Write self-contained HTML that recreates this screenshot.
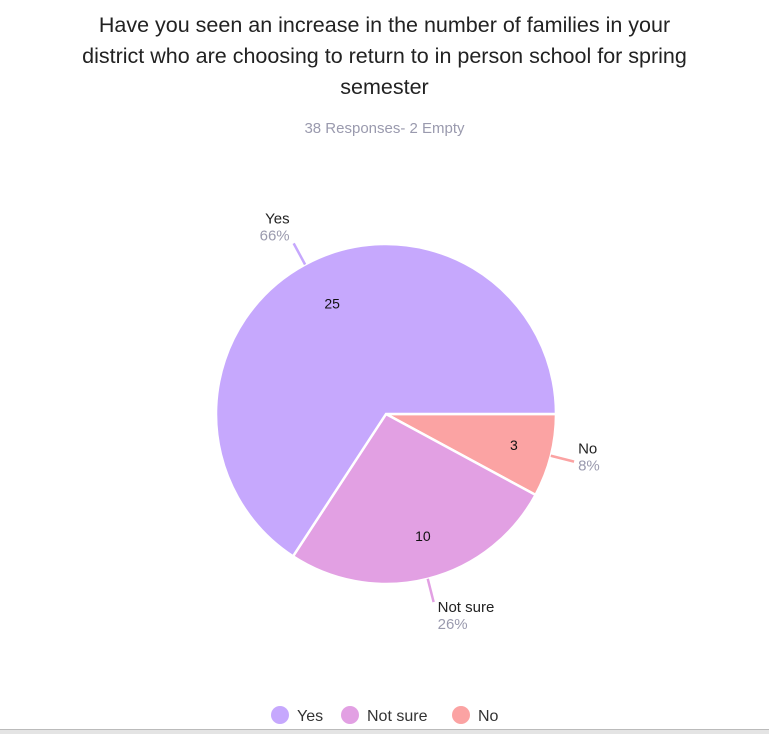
<!DOCTYPE html>
<html><head><meta charset="utf-8"><style>
body{margin:0;background:#fff;width:769px;height:733px;overflow:hidden;font-family:"Liberation Sans",sans-serif;}
#title{position:absolute;left:0;top:10px;width:769px;text-align:center;font-size:21.5px;line-height:31px;color:#222;}
#sub{position:absolute;left:0;top:120px;width:769px;text-align:center;font-size:15px;color:#9a9aae;}
#bottomline{position:absolute;left:0;top:729px;width:769px;height:4px;background:#e4e4e4;border-top:1px solid #bbb;}
</style></head><body>
<div id="title">Have you seen an increase in the number of families in your<br>district who are choosing to return to in person school for spring<br>semester</div>
<div id="sub">38 Responses- 2 Empty</div>
<svg id="chart" width="769" height="733" style="position:absolute;left:0;top:0"></svg>
<div id="bottomline"></div>
<script>
const categories=["No","Not sure","Yes"];
const values=[3,10,25];
const percents=["8%","26%","66%"];
const colors=["#fba3a3","#e2a0e3","#c6a8fd"];
const legendOrder=["Yes","Not sure","No"];
const NS="http://www.w3.org/2000/svg";
const svg=document.getElementById("chart");
const cx=386,cy=414,R=170;
const total=values.reduce((a,b)=>a+b,0);
function pt(a,r){return [cx+r*Math.cos(a),cy+r*Math.sin(a)];}
let a0=0;
values.forEach((v,i)=>{
  const a1=a0+v/total*2*Math.PI;
  const p0=pt(a0,R),p1=pt(a1,R);
  const large=(a1-a0)>Math.PI?1:0;
  const path=document.createElementNS(NS,"path");
  path.setAttribute("d",`M${cx},${cy}L${p0[0]},${p0[1]}A${R},${R} 0 ${large} 1 ${p1[0]},${p1[1]}Z`);
  path.setAttribute("fill",colors[i]);path.setAttribute("stroke","#fff");path.setAttribute("stroke-width","2.5");
  
  
  svg.appendChild(path);
  const am=(a0+a1)/2;
  const c=Math.cos(am),s=Math.sin(am);
  const vp=pt(am,R*0.74);
  const t=document.createElementNS(NS,"text");
  t.setAttribute("x",vp[0]+6);t.setAttribute("y",vp[1]+5);t.setAttribute("text-anchor","middle");
  t.setAttribute("font-size","14");t.setAttribute("fill","#111");t.textContent=v;
  
  
  svg.appendChild(t);
  const l0=pt(am,R),l1=pt(am,R+24);
  const ln=document.createElementNS(NS,"line");
  ln.setAttribute("x1",l0[0]);ln.setAttribute("y1",l0[1]);ln.setAttribute("x2",l1[0]);ln.setAttribute("y2",l1[1]);
  ln.setAttribute("stroke",colors[i]);ln.setAttribute("stroke-width","2.5");
  
  
  svg.appendChild(ln);
  const lx=l1[0]+(c>0?4:-4), anchor=c>0?"start":"end";
  const ly=s<-0.5?l1[1]-20:(s>0.5?l1[1]+10:l1[1]-8);
  const n=document.createElementNS(NS,"text");
  n.setAttribute("x",lx);n.setAttribute("y",ly);n.setAttribute("text-anchor",anchor);
  n.setAttribute("font-size","15");n.setAttribute("fill","#222");n.textContent=categories[i];
  
  
  svg.appendChild(n);
  const p=document.createElementNS(NS,"text");
  p.setAttribute("x",lx);p.setAttribute("y",ly+17);p.setAttribute("text-anchor",anchor);
  p.setAttribute("font-size","15");p.setAttribute("fill","#9a9aae");p.textContent=percents[i];
  
  
  svg.appendChild(p);
  a0=a1;
});
const legX=[280,350,461];
legendOrder.forEach((name,j)=>{
  const i=categories.indexOf(name);
  const g=document.createElementNS(NS,"g");
  
  
  const ci=document.createElementNS(NS,"circle");
  ci.setAttribute("cx",legX[j]);ci.setAttribute("cy",715);ci.setAttribute("r",9);ci.setAttribute("fill",colors[i]);
  
  
  g.appendChild(ci);
  const tx=document.createElementNS(NS,"text");
  tx.setAttribute("x",legX[j]+17);tx.setAttribute("y",721);tx.setAttribute("font-size","16");tx.setAttribute("fill","#333");
  tx.textContent=name;
  
  
  g.appendChild(tx);
  svg.appendChild(g);
});
</script>
</body></html>
